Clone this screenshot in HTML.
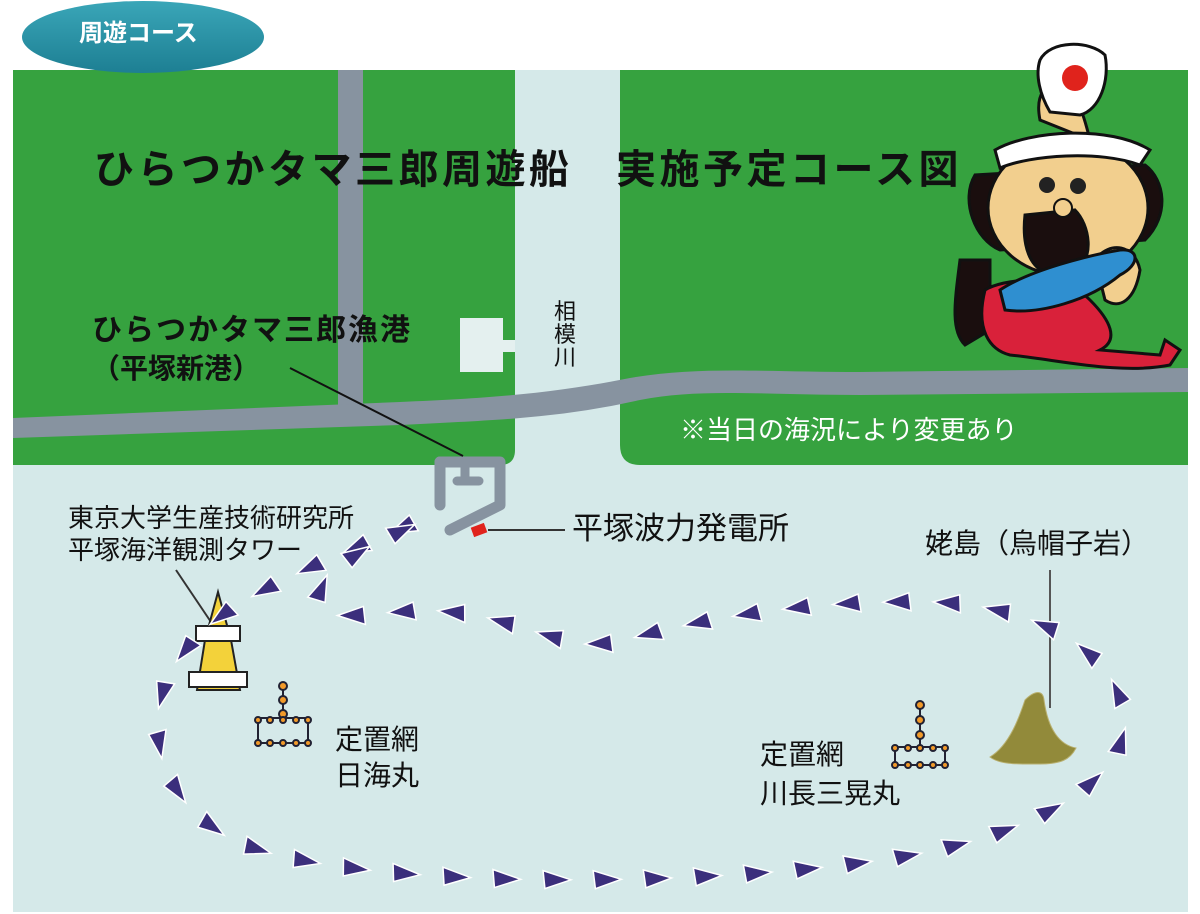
<!DOCTYPE html>
<html><head><meta charset="utf-8"><style>
html,body{margin:0;padding:0;background:#fff;}
body{width:1200px;height:914px;position:relative;overflow:hidden;font-family:"Liberation Sans","Noto Sans CJK JP",sans-serif;}
.t{position:absolute;white-space:nowrap;color:#111;line-height:1;}
</style></head><body>
<svg width="1200" height="914" style="position:absolute;left:0;top:0">
<defs><linearGradient id="bg" x1="0" y1="0" x2="0" y2="1"><stop offset="0" stop-color="#3aa6b8"/><stop offset="1" stop-color="#1d7f93"/></linearGradient></defs>
<rect x="13" y="70" width="1175" height="842" fill="#d5e9e9"/>
<path d="M13 70 H515 V450 Q515 465 500 465 H13 Z" fill="#36a23f"/>
<path d="M620 70 H1188 V465 H640 Q620 465 620 445 Z" fill="#36a23f"/>
<rect x="338" y="70" width="25" height="345" fill="#8793a0"/>
<path d="M13 418 L13 438 L400 425 C500 420 560 418 640 400 C700 388 760 395 860 395 L1188 392 L1188 368 L860 372 C760 372 700 366 630 378 C560 392 500 398 400 402 Z" fill="#8793a0"/>
<path d="M460 318 H503 V340 H515 V352 H503 V372 H460 Z" fill="#e4f0ef"/>
<path d="M440 462 H500 V505 L450 530" fill="none" stroke="#8793a0" stroke-width="11" stroke-linejoin="round" stroke-linecap="round"/>
<path d="M440 462 V505" fill="none" stroke="#8793a0" stroke-width="11" stroke-linecap="round"/>
<path d="M465 462 V477 M457 481 H479" fill="none" stroke="#8793a0" stroke-width="9" stroke-linecap="round"/>
<rect x="472" y="525" width="14" height="10" fill="#e0231c" transform="rotate(-20 479 530)"/>
<line x1="290" y1="368" x2="463" y2="456" stroke="#111" stroke-width="2"/>
<line x1="488" y1="530" x2="565" y2="530" stroke="#333" stroke-width="2"/>
<line x1="176" y1="570" x2="215" y2="628" stroke="#333" stroke-width="2"/>
<line x1="1050" y1="570" x2="1050" y2="708" stroke="#555" stroke-width="2"/>
<ellipse cx="143" cy="37" rx="121" ry="36" fill="url(#bg)"/>
<polygon points="218,592 205,640 197,690 240,690 231,640" fill="#f3d23a" stroke="#222" stroke-width="2"/>
<rect x="196" y="626" width="44" height="15" fill="#fff" stroke="#222" stroke-width="2"/>
<rect x="189" y="672" width="58" height="15" fill="#fff" stroke="#222" stroke-width="2"/>
<path d="M990 757 C1010 745 1020 715 1025 700 C1035 690 1043 690 1044 700 C1048 730 1060 745 1076 748 C1070 760 1060 764 1040 764 C1020 764 1000 765 990 757 Z" fill="#928a3a" stroke="#b8b070" stroke-width="1"/>
<g stroke="#223" stroke-width="2" fill="#f29a2a">
<line x1="283" y1="686" x2="283" y2="718"/>
<rect x="258" y="718" width="50" height="25" fill="none"/>
<circle cx="283" cy="686" r="4"/><circle cx="283" cy="700" r="4"/><circle cx="283" cy="714" r="4"/>
<circle cx="258" cy="720" r="3"/><circle cx="270" cy="720" r="3"/><circle cx="283" cy="720" r="3"/><circle cx="296" cy="720" r="3"/><circle cx="308" cy="720" r="3"/>
<circle cx="258" cy="743" r="3"/><circle cx="270" cy="743" r="3"/><circle cx="283" cy="743" r="3"/><circle cx="296" cy="743" r="3"/><circle cx="308" cy="743" r="3"/>
<line x1="920" y1="705" x2="920" y2="747"/>
<rect x="895" y="747" width="50" height="18" fill="none"/>
<circle cx="920" cy="705" r="4"/><circle cx="920" cy="720" r="4"/><circle cx="920" cy="735" r="4"/>
<circle cx="895" cy="748" r="3"/><circle cx="908" cy="748" r="3"/><circle cx="920" cy="748" r="3"/><circle cx="933" cy="748" r="3"/><circle cx="945" cy="748" r="3"/>
<circle cx="895" cy="765" r="3"/><circle cx="908" cy="765" r="3"/><circle cx="920" cy="765" r="3"/><circle cx="933" cy="765" r="3"/><circle cx="945" cy="765" r="3"/>
</g>
<path id="route" d="M425 518 C330 560 230 595 190 645 C140 700 145 790 230 838 C330 890 700 890 900 857 C1050 832 1140 770 1122 705 C1105 645 1030 605 930 602 C800 600 700 620 625 640 C565 655 530 620 450 612 C380 606 330 630 320 600 C315 570 380 540 425 520" fill="none" stroke="none"/>
<g id="arrows"></g>
<g stroke="#111" stroke-width="3">
<path d="M960 260 C955 300 950 330 965 345 L990 330 L990 260 Z" fill="#1a0e0e"/>
<path d="M985 290 C1000 280 1060 270 1090 300 C1110 320 1120 340 1100 350 L1160 355 L1165 340 L1180 350 L1170 365 C1120 375 1060 360 1010 355 C990 350 975 330 985 290 Z" fill="#d9213a"/>
<path d="M1040 120 C1035 95 1045 80 1065 85 C1080 100 1085 120 1090 140 Z" fill="#f2cf8e"/>
<path d="M1040 60 C1050 40 1090 40 1105 55 C1110 80 1100 110 1080 115 L1050 112 C1040 95 1035 75 1040 60 Z" fill="#fff"/>
<path d="M975 175 C960 200 975 240 1000 250 L1145 240 C1170 215 1165 180 1145 165 Z" fill="#1a0e0e"/>
<ellipse cx="1068" cy="208" rx="80" ry="68" fill="#f2cf8e"/>
<path d="M995 150 C1030 130 1110 125 1150 150 L1140 165 C1100 150 1030 155 1000 168 Z" fill="#fff"/>
<path d="M1025 215 C1020 260 1040 285 1075 270 C1095 260 1090 225 1075 210 Z" fill="#1a0e0e"/>
<path d="M1095 260 C1110 240 1135 245 1140 270 C1135 300 1120 310 1105 300 Z" fill="#f2cf8e"/>
<path d="M1000 290 C1030 270 1090 255 1120 250 C1140 248 1140 265 1120 275 C1090 300 1040 315 1005 310 Z" fill="#2f8fd0"/>
</g>
<circle cx="1075" cy="78" r="13" fill="#e0231c"/>
<circle cx="1047" cy="185" r="8" fill="#222"/><circle cx="1078" cy="186" r="8" fill="#222"/>
<circle cx="1063" cy="208" r="9" fill="#f2cf8e" stroke="#111" stroke-width="2"/>
</svg>
<div class="t" style="left:79px;top:22px;font-size:24px;color:#fff;font-weight:bold;">周遊コース</div>
<div class="t" style="left:94px;top:150px;font-size:40px;font-weight:bold;letter-spacing:3.5px;">ひらつかタマ三郎周遊船　実施予定コース図</div>
<div class="t" style="left:92px;top:316px;font-size:30px;font-weight:bold;letter-spacing:2px;">ひらつかタマ三郎漁港</div>
<div class="t" style="left:92px;top:355px;font-size:28px;font-weight:bold;">（平塚新港）</div>
<div class="t" style="left:554px;top:300px;font-size:22px;width:22px;line-height:23px;white-space:normal;">相模川</div>
<div class="t" style="left:680px;top:417px;font-size:26px;color:#fff;">※当日の海況により変更あり</div>
<div class="t" style="left:68px;top:505px;font-size:26px;">東京大学生産技術研究所</div>
<div class="t" style="left:68px;top:537px;font-size:26px;">平塚海洋観測タワー</div>
<div class="t" style="left:572px;top:513px;font-size:31px;">平塚波力発電所</div>
<div class="t" style="left:925px;top:530px;font-size:28px;">姥島（烏帽子岩）</div>
<div class="t" style="left:335px;top:726px;font-size:28px;">定置網</div>
<div class="t" style="left:335px;top:762px;font-size:28px;">日海丸</div>
<div class="t" style="left:760px;top:741px;font-size:28px;">定置網</div>
<div class="t" style="left:760px;top:780px;font-size:28px;">川長三晃丸</div>
<script>
(function(){
var p=document.getElementById('route'),g=document.getElementById('arrows');
var L=p.getTotalLength(),n=Math.round(L/50),s='';
for(var i=0;i<n;i++){var d=(i+0.5)*L/n;var a=p.getPointAtLength(d),b=p.getPointAtLength(Math.min(L,d+1));
var ang=Math.atan2(b.y-a.y,b.x-a.x)*180/Math.PI;
s+='<polygon points="14,0 -14,-9 -12,9" fill="#3b2f7c" stroke="#fff" stroke-width="1.5" transform="translate('+a.x.toFixed(1)+' '+a.y.toFixed(1)+') rotate('+ang.toFixed(1)+')"/>';}
g.innerHTML=s;})();
</script>
</body></html>
